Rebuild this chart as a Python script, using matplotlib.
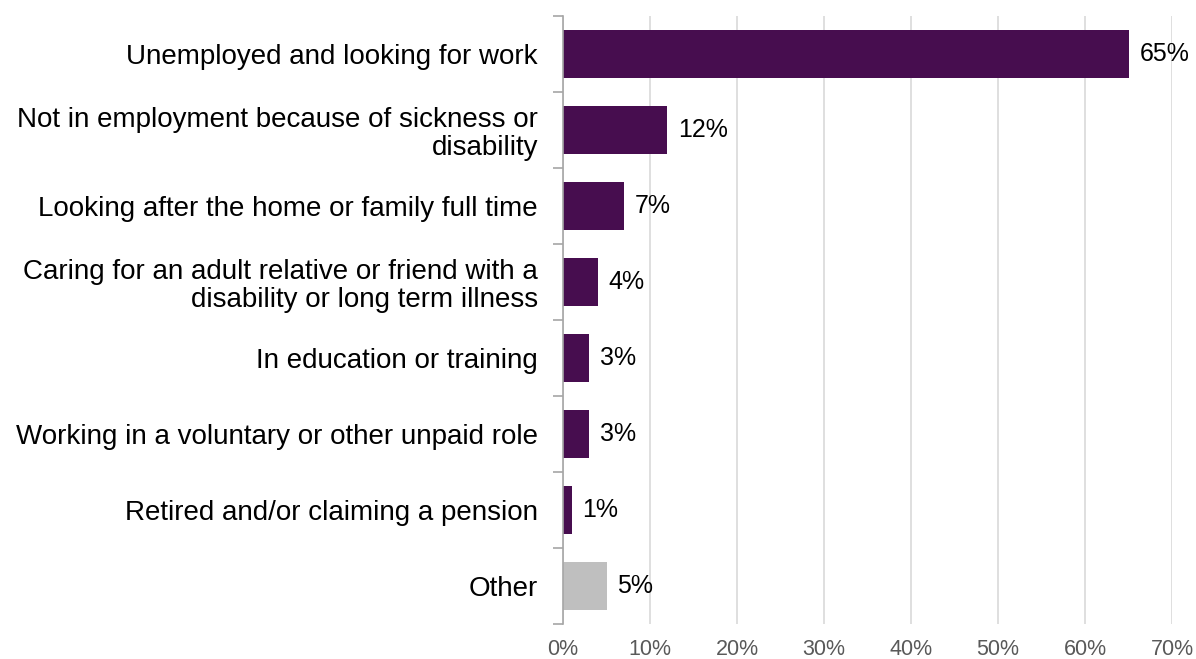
import matplotlib
matplotlib.use("Agg")
import matplotlib.pyplot as plt

plt.rcParams['font.family'] = ['Liberation Sans', 'DejaVu Sans']

categories = [
    "Unemployed and looking for work",
    "Not in employment because of sickness or\ndisability",
    "Looking after the home or family full time",
    "Caring for an adult relative or friend with a\ndisability or long term illness",
    "In education or training",
    "Working in a voluntary or other unpaid role",
    "Retired and/or claiming a pension",
    "Other",
]
values = [65, 12, 7, 4, 3, 3, 1, 5]
value_labels = ["65%", "12%", "7%", "4%", "3%", "3%", "1%", "5%"]
x_ticks = [0, 10, 20, 30, 40, 50, 60, 70]
x_tick_labels = ["0%", "10%", "20%", "30%", "40%", "50%", "60%", "70%"]

purple = "#470D4F"
grey = "#BFBFBF"
colors = [purple] * 7 + [grey]

fig = plt.figure(figsize=(11.96, 6.59), dpi=100)
ax = fig.add_axes([563 / 1196, 1 - 624 / 659, (1172 - 563) / 1196, (624 - 16) / 659])

n = len(categories)
pos = list(range(n))
ax.barh(pos, values, height=0.62, color=colors, zorder=3)

for p, v, lab in zip(pos, values, value_labels):
    ax.text(v + 1.25, p, lab, va="center", ha="left", fontsize=18, color="#000000")

ax.set_xlim(0, 70)
ax.set_ylim(n - 0.5, -0.5)
ax.set_xticks(x_ticks)
ax.set_xticklabels(x_tick_labels, fontsize=15.5, color="#595959")
ax.tick_params(axis="x", length=0, pad=11)

# category labels centred on bars, ticks at category boundaries
ax.set_yticks(pos)
ax.set_yticklabels(categories, fontsize=20, color="#000000", linespacing=1.1)
ax.tick_params(axis="y", which="major", length=0, pad=18)
ax.set_yticks([i - 0.5 for i in range(n + 1)], minor=True)
ax.tick_params(axis="y", which="minor", length=7, width=1.2, color="#A6A6A6")

ax.grid(axis="x", color="#D9D9D9", linewidth=1.2, zorder=0)
for side in ["top", "right", "bottom"]:
    ax.spines[side].set_visible(False)
ax.spines["left"].set_color("#A6A6A6")
ax.spines["left"].set_linewidth(1.2)
ax.spines["left"].set_zorder(4)

fig.savefig("out.png", dpi=100)
